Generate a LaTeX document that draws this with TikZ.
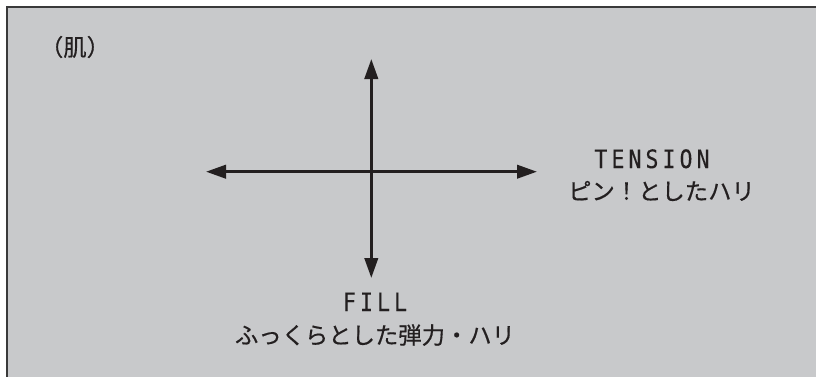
\documentclass[tikz,border=0pt]{standalone}
\usepackage{fontspec}
\usetikzlibrary{arrows.meta}
\newfontfamily\jp[FakeBold=0.5]{Noto Sans CJK JP}
\newfontfamily\latmono[LetterSpace=16,FakeStretch=0.85,FakeBold=0.2]{DejaVu Sans Mono}
\definecolor{panel}{HTML}{C8C9CB}
\definecolor{ink}{HTML}{231F20}
\definecolor{frame}{HTML}{3A3A3A}
\tikzset{
  jptext/.style={inner sep=0pt, text=ink, font=\jp\fontsize{17.5pt}{20pt}\selectfont},
  latext/.style={inner sep=0pt, text=ink, anchor=base, font=\latmono\fontsize{19pt}{20pt}\selectfont},
  axis/.style={line width=2.2pt, draw=ink, {Triangle[length=15pt,width=10pt]}-{Triangle[length=15pt,width=10pt]}},
}
\begin{document}
\begin{tikzpicture}[x=0.75pt,y=-0.75pt]
\useasboundingbox (0,0) rectangle (816,376);
\begin{scope}
\clip (0,0) rectangle (816,376);
\draw[draw=frame, fill=panel, line width=1.5pt] (7,7) rectangle (830,390);
\end{scope}
\node[jptext] (skin) at (75,47) {（肌）};
\coordinate (C) at (371.3,171.7);
\coordinate (L) at (206,171.7);
\coordinate (R) at (537,171.7);
\coordinate (T) at (371.3,59);
\coordinate (B) at (371.3,278);
\draw[axis] (L) -- (R);
\draw[axis] (T) -- (B);
\node[latext] (tension) at (652,168) {TENSION};
\node[jptext] (tensionjp) at (661.5,191) {ピン！としたハリ};
\node[latext] (fill) at (375,311) {FILL};
\node[jptext] (filljp) at (375,335) {ふっくらとした弾力・ハリ};
\end{tikzpicture}
\end{document}
